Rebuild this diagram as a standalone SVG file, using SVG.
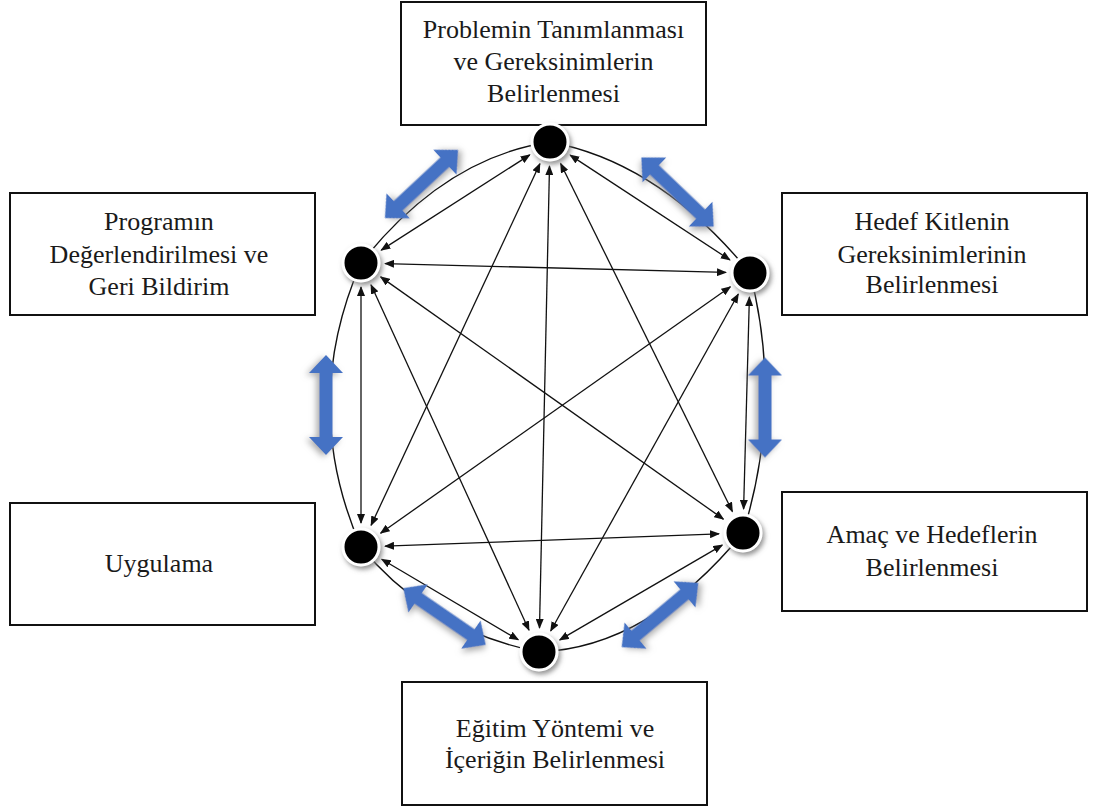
<svg xmlns="http://www.w3.org/2000/svg" width="1093" height="809" viewBox="0 0 1093 809">
<style>
.box{fill:#fff;stroke:#111;stroke-width:2}
.lbl{font-family:"Liberation Serif","Times New Roman",serif;font-size:26px;fill:#1a1a1a;text-anchor:middle}
.arc{fill:none;stroke:#111;stroke-width:1.4}
.ln{fill:none;stroke:#111;stroke-width:1.3;marker-start:url(#ah);marker-end:url(#ah)}
.dot{fill:#000;stroke:#fff;stroke-width:3;filter:url(#sh)}
.blue{fill:#4472c4;filter:url(#bsh)}
</style>
<defs>
<marker id="ah" markerUnits="userSpaceOnUse" markerWidth="10" markerHeight="8" refX="9" refY="4" orient="auto-start-reverse" viewBox="0 0 10 8">
<path d="M0,0 L10,4 L0,8 Z" fill="#111"/>
</marker>
<filter id="sh" x="-50%" y="-50%" width="200%" height="200%">
<feDropShadow dx="2" dy="3" stdDeviation="2.5" flood-color="#777" flood-opacity="0.8"/>
</filter>
<filter id="bsh" x="-30%" y="-60%" width="160%" height="220%">
<feDropShadow dx="2" dy="3" stdDeviation="3" flood-color="#888" flood-opacity="0.7"/>
</filter>
<path id="dbl" d="M-50,0 L-32,-17 L-32,-6.5 L32,-6.5 L32,-17 L50,0 L32,17 L32,6.5 L-32,6.5 L-32,17 Z"/>
</defs>
<rect width="1093" height="809" fill="#fff"/>

<g id="n-problem">
<rect class="box" x="401" y="2" width="305" height="123"/>
<text class="lbl" x="553.5" y="38">Problemin Tanımlanması</text>
<text class="lbl" x="553.5" y="70">ve Gereksinimlerin</text>
<text class="lbl" x="553.5" y="102">Belirlenmesi</text>
</g>
<g id="n-program">
<rect class="box" x="10" y="193" width="305" height="122"/>
<text class="lbl" x="159" y="230">Programın</text>
<text class="lbl" x="159" y="263">Değerlendirilmesi ve</text>
<text class="lbl" x="159" y="295">Geri Bildirim</text>
</g>
<g id="n-hedef">
<rect class="box" x="782" y="193" width="305" height="122"/>
<text class="lbl" x="932" y="230">Hedef Kitlenin</text>
<text class="lbl" x="932" y="263">Gereksinimlerinin</text>
<text class="lbl" x="932" y="293">Belirlenmesi</text>
</g>
<g id="n-uygulama">
<rect class="box" x="10" y="503" width="305" height="122"/>
<text class="lbl" x="159" y="572">Uygulama</text>
</g>
<g id="n-amac">
<rect class="box" x="782" y="492" width="305" height="119"/>
<text class="lbl" x="932" y="543">Amaç ve Hedeflerin</text>
<text class="lbl" x="932" y="576">Belirlenmesi</text>
</g>
<g id="n-egitim">
<rect class="box" x="402" y="682" width="305" height="123"/>
<text class="lbl" x="555" y="737">Eğitim Yöntemi ve</text>
<text class="lbl" x="555" y="768">İçeriğin Belirlenmesi</text>
</g>

<g id="connectors">
<path class="arc" d="M550,142 Q660,162.5 750,273"/>
<path class="arc" d="M550,142 Q444.5,157.5 361,263"/>
<path class="arc" d="M361,263 Q299,405 361,547"/>
<path class="arc" d="M361,547 Q430,630.5 539,652"/>
<path class="arc" d="M539,652 Q649,647.5 743,533"/>
<path class="arc" d="M743,533 Q783.5,403 750,273"/>

<line class="ln" x1="570.1" y1="155.1" x2="729.9" y2="259.9"/>
<line class="ln" x1="560.6" y1="163.5" x2="732.4" y2="511.5"/>
<line class="ln" x1="549.5" y1="166" x2="539.5" y2="628"/>
<line class="ln" x1="539.9" y1="163.7" x2="371.1" y2="525.3"/>
<line class="ln" x1="529.8" y1="154.9" x2="381.2" y2="250.1"/>
<line class="ln" x1="749.4" y1="297" x2="743.6" y2="509"/>
<line class="ln" x1="738.3" y1="294" x2="550.7" y2="631"/>
<line class="ln" x1="730.4" y1="286.8" x2="380.6" y2="533.2"/>
<line class="ln" x1="726" y1="272.4" x2="385" y2="263.6"/>
<line class="ln" x1="722.3" y1="545.1" x2="559.7" y2="639.9"/>
<line class="ln" x1="719" y1="533.9" x2="385" y2="546.1"/>
<line class="ln" x1="723.4" y1="519.1" x2="380.6" y2="276.9"/>
<line class="ln" x1="518.3" y1="639.8" x2="381.7" y2="559.2"/>
<line class="ln" x1="529" y1="630.2" x2="371" y2="284.8"/>
<line class="ln" x1="361" y1="523" x2="361" y2="287"/>

<use href="#dbl" class="blue" transform="translate(421.5,184) rotate(-43)"/>
<use href="#dbl" class="blue" transform="translate(677.5,192) rotate(43.7)"/>
<use href="#dbl" class="blue" transform="translate(326,405) rotate(90)"/>
<use href="#dbl" class="blue" transform="translate(765,407.5) rotate(90)"/>
<use href="#dbl" class="blue" transform="translate(444.5,616.5) rotate(34.5)"/>
<use href="#dbl" class="blue" transform="translate(660,615) rotate(-40)"/>
</g>

<g id="dots">
<circle id="d-top" class="dot" cx="550" cy="142" r="18"/>
<circle id="d-ur" class="dot" cx="750" cy="273" r="18"/>
<circle id="d-lr" class="dot" cx="743" cy="533" r="18"/>
<circle id="d-b" class="dot" cx="539" cy="652" r="18"/>
<circle id="d-ll" class="dot" cx="361" cy="547" r="18"/>
<circle id="d-ul" class="dot" cx="361" cy="263" r="18"/>
</g>
</svg>
